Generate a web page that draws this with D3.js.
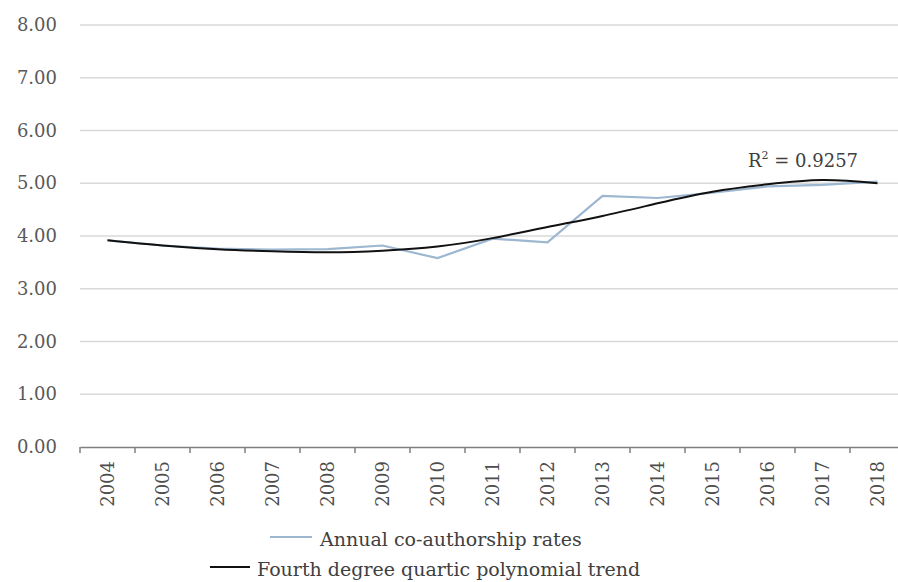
<!DOCTYPE html>
<html><head><meta charset="utf-8">
<script src="https://cdn.jsdelivr.net/npm/d3@7/dist/d3.min.js"></script>
<style>body{margin:0;background:#fff}svg{display:block}</style>
</head><body>
<svg id="c" width="898" height="582"></svg>
<script>
const years = ["2004","2005","2006","2007","2008","2009","2010","2011","2012","2013","2014","2015","2016","2017","2018"];
const annualRates = [3.92,3.82,3.76,3.74,3.75,3.82,3.58,3.95,3.88,4.76,4.72,4.82,4.94,4.97,5.03];
const trendValues = [3.92,3.82,3.75,3.71,3.69,3.72,3.80,3.96,4.17,4.38,4.62,4.84,4.98,5.06,5.00];
const yTicks = [0,1,2,3,4,5,6,7,8];
const r2Label = "0.9257";
const legendLabels = ["Annual co-authorship rates","Fourth degree quartic polynomial trend"];

const svg = d3.select("#c");
const font = "DejaVu Serif";
const x = d3.scaleBand().domain(years).range([80,905]);
const y = d3.scaleLinear().domain([0,8]).range([447,25]);
const cx = d => x(d) + x.bandwidth()/2;

// gridlines
svg.append("g").selectAll("line").data(yTicks.filter(v=>v>0)).join("line")
  .attr("x1",80).attr("x2",905).attr("y1",d=>y(d)).attr("y2",d=>y(d))
  .attr("stroke","#d9d9d9").attr("stroke-width",1.5);

// y labels
svg.append("g").selectAll("text").data(yTicks).join("text")
  .attr("x",57).attr("y",d=>y(d)+1).attr("text-anchor","end").attr("dominant-baseline","middle")
  .attr("font-family",font).attr("font-size",18).attr("fill","#595959")
  .text(d=>d3.format(".2f")(d));

// x axis
const xAxis = svg.append("g").attr("transform",`translate(0,${y(0)})`)
  .call(d3.axisBottom(x).tickSize(0).tickPadding(0));
xAxis.select(".domain").attr("stroke","#7f7f7f").attr("stroke-width",1.5);
xAxis.selectAll(".tick text").remove();
svg.append("g").selectAll("line").data(d3.range(years.length+1)).join("line")
  .attr("x1",i=>80+i*x.bandwidth()).attr("x2",i=>80+i*x.bandwidth())
  .attr("y1",y(0)).attr("y2",y(0)+6).attr("stroke","#7f7f7f").attr("stroke-width",1.5);
svg.append("g").selectAll("text").data(years).join("text")
  .attr("transform",d=>`translate(${cx(d)+1},461) rotate(-90)`)
  .attr("text-anchor","end").attr("dominant-baseline","middle")
  .attr("font-family",font).attr("font-size",18).attr("fill","#4d4d4d")
  .text(d=>d);

// lines
const line = d3.line().x((d,i)=>cx(years[i])).y(d=>y(d));
svg.append("path").datum(annualRates).attr("d",line)
  .attr("fill","none").attr("stroke","#9db7d1").attr("stroke-width",2.2);
svg.append("path").datum(trendValues).attr("d",line.curve(d3.curveNatural))
  .attr("fill","none").attr("stroke","#111").attr("stroke-width",2);

// R2 label
const r = svg.append("text").attr("x",748).attr("y",167)
  .attr("font-family",font).attr("font-size",18).attr("fill","#404040");
r.append("tspan").text("R");
r.append("tspan").attr("font-size",11).attr("dy",-8).text("2");
r.append("tspan").attr("dy",8).text(" = " + r2Label);

// legend
const lg = [
  {t:legendLabels[0], c:"#9db7d1", x1:270, x2:312, ly:537, tx:320, ty:546},
  {t:legendLabels[1], c:"#111", x1:210, x2:250, ly:567, tx:257, ty:576}
];
lg.forEach(d=>{
  svg.append("line").attr("x1",d.x1).attr("x2",d.x2).attr("y1",d.ly).attr("y2",d.ly)
    .attr("stroke",d.c).attr("stroke-width",2);
  svg.append("text").attr("x",d.tx).attr("y",d.ty).attr("font-family",font)
    .attr("font-size",19).attr("fill","#404040").text(d.t);
});
</script>
</body></html>
